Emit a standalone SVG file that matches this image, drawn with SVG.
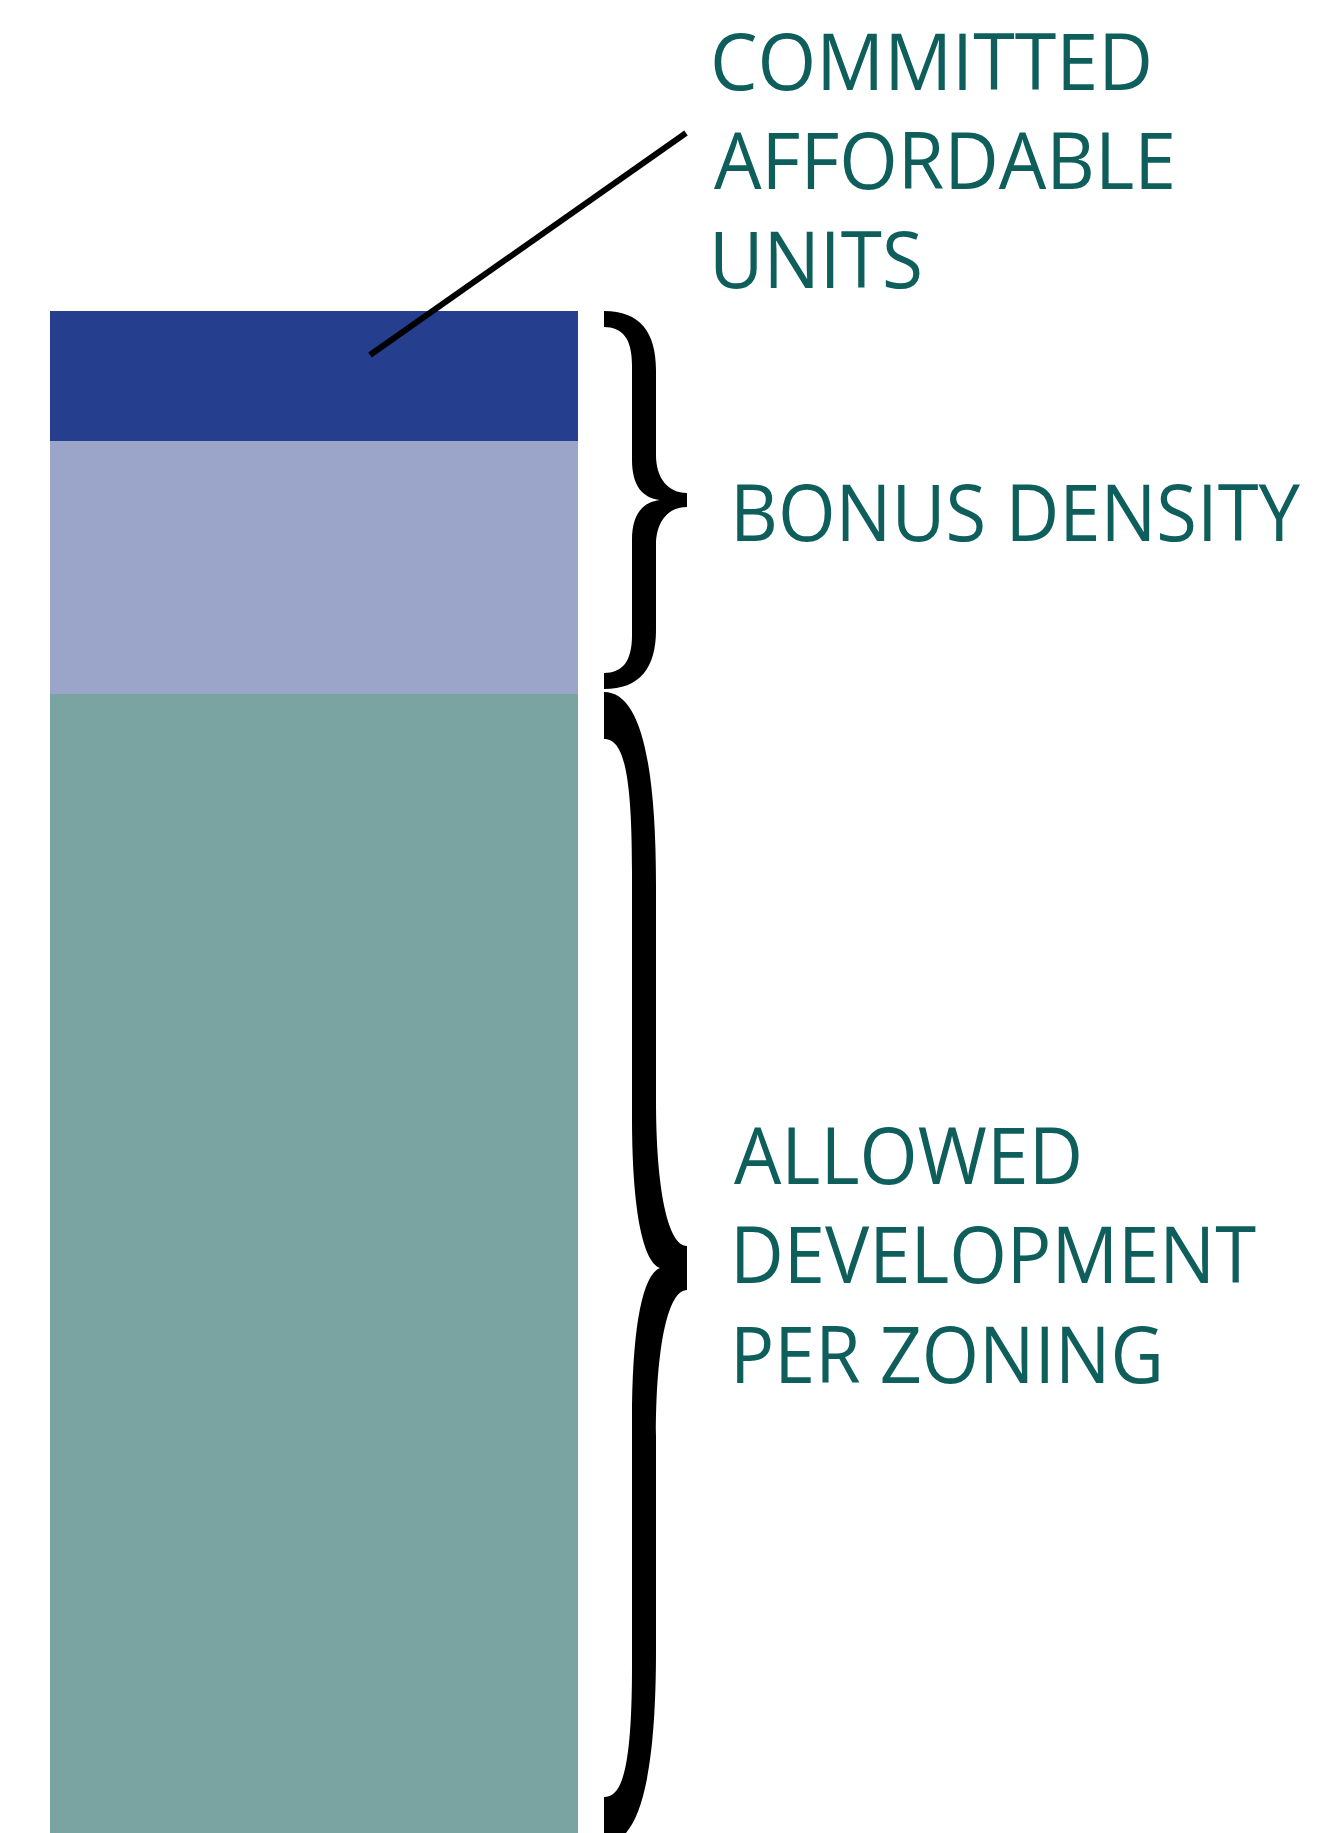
<svg xmlns="http://www.w3.org/2000/svg" width="1342" height="1833" viewBox="0 0 1342 1833">
  <style>
    .lbl { font-family: "Open Sans", "Liberation Sans", sans-serif; font-size: 78px; fill: #0e5e5c; }
    .brace { fill: #000000; }
    .leader { stroke: #000000; stroke-width: 6; fill: none; }
  </style>
  <rect x="0" y="0" width="1342" height="1833" fill="#ffffff"/>

  <!-- stacked density bar -->
  <g id="bar-allowed"><rect x="50" y="694" width="528" height="1139" fill="#7aa4a2"/></g>
  <g id="bar-bonus"><rect x="50" y="441" width="528" height="253" fill="#9ba5ca"/></g>
  <g id="bar-affordable"><rect x="50" y="311" width="528" height="130" fill="#253f8e"/></g>

  <!-- braces and leader -->
  <g id="connectors">
    <line class="leader" x1="686" y1="133" x2="370" y2="355"/>
    <path class="brace" d="M 604 311 C 640 311 656 332 656 370 L 656 455 C 656 478 668 493 687 493 L 687 507 C 668 507 656 522 656 545 L 656 630 C 656 668 640 689 604 689 L 604 673 C 622 673 632 662 632 635 L 632 540 C 632 515 642 502 660 500 C 642 498 632 485 632 460 L 632 365 C 632 338 622 327 604 327 Z"/>
    <path class="brace" d="M 604 692 C 640 692 656 760 656 886 L 656 1100 C 656 1190 668 1246 687 1246 L 687 1290 C 668 1290 656 1346 656 1436 L 656 1650 C 656 1776 640 1844 604 1844 L 604 1797 C 622 1797 632 1770 632 1665 L 632 1420 C 632 1330 642 1275 660 1268 C 642 1261 632 1206 632 1116 L 632 871 C 632 766 622 739 604 739 Z"/>
  </g>

  <!-- labels -->
  <g id="label-affordable">
    <text class="lbl" x="710" y="90" textLength="443" lengthAdjust="spacingAndGlyphs">COMMITTED</text>
    <text class="lbl" x="714" y="189" textLength="462" lengthAdjust="spacingAndGlyphs">AFFORDABLE</text>
    <text class="lbl" x="709" y="288" textLength="214" lengthAdjust="spacingAndGlyphs">UNITS</text>
  </g>
  <g id="label-bonus">
    <text class="lbl" x="730" y="541" textLength="570" lengthAdjust="spacingAndGlyphs">BONUS DENSITY</text>
  </g>
  <g id="label-allowed">
    <text class="lbl" x="734" y="1184" textLength="349" lengthAdjust="spacingAndGlyphs">ALLOWED</text>
    <text class="lbl" x="730" y="1283" textLength="526" lengthAdjust="spacingAndGlyphs">DEVELOPMENT</text>
    <text class="lbl" x="730" y="1383" textLength="434" lengthAdjust="spacingAndGlyphs">PER ZONING</text>
  </g>
</svg>
